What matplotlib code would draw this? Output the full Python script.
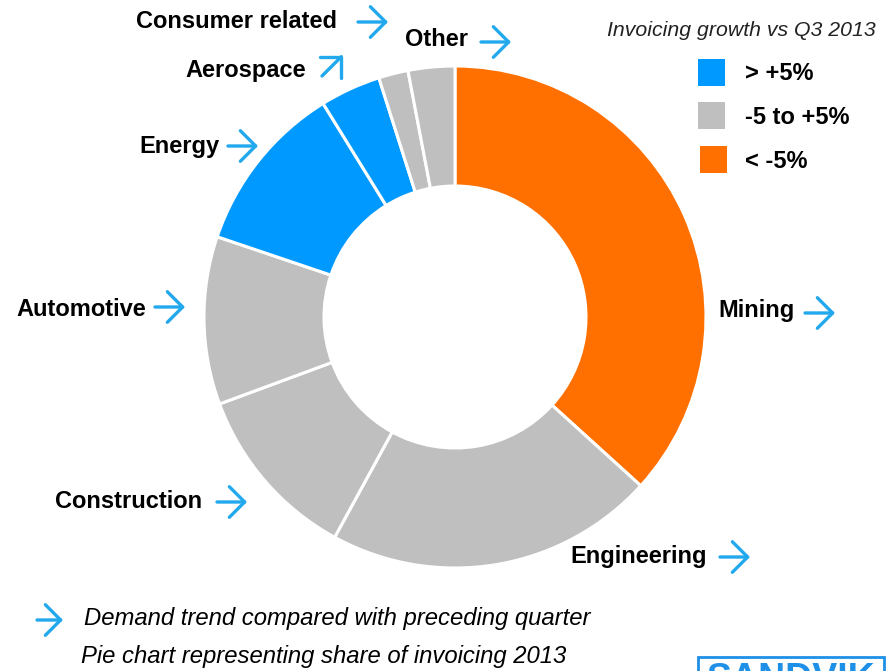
import matplotlib
matplotlib.use("Agg")
import matplotlib.pyplot as plt
from matplotlib.patches import Rectangle

# ---- data ----
segments = ["Mining", "Engineering", "Construction", "Automotive", "Energy",
            "Aerospace", "Consumer related", "Other"]
shares = [36.7, 21.2, 11.4, 10.8, 11.0, 3.9, 1.9, 3.0]
growth = ["low", "mid", "mid", "mid", "high", "high", "mid", "mid"]
trend_dir = ["right", "right", "right", "right", "right", "upright", "right", "right"]
legend_keys = ["high", "mid", "low"]
legend_labels = ["> +5%", "-5 to +5%", "< -5%"]
legend_title = "Invoicing growth vs Q3 2013"
note1 = "Demand trend compared with preceding quarter"
note2 = "Pie chart representing share of invoicing 2013"

colors = {"high": "#0099FF", "mid": "#BFBFBF", "low": "#FF7000"}
ARROW = "#22A8EC"
W, H = 892, 671

plt.rcParams['font.family'] = ['Liberation Sans', 'DejaVu Sans']
fig = plt.figure(figsize=(W / 100, H / 100), dpi=100)
ax = fig.add_axes([0, 0, 1, 1])

cx, cy, R, ring = 455, H - 317, 251, 120
ax.pie(shares, colors=[colors[g] for g in growth], startangle=90, counterclock=False,
       radius=R, center=(cx, cy),
       wedgeprops=dict(width=ring, edgecolor="white", linewidth=2.2))
ax.set_xlim(0, W)
ax.set_ylim(0, H)
ax.set_aspect("equal")
ax.axis("off")


def yy(y):
    return H - y


def arrow(x0, y0, x1, y1):
    ax.annotate("", xy=(x1, yy(y1)), xytext=(x0, yy(y0)),
                arrowprops=dict(arrowstyle="->,head_length=0.55,head_width=0.55",
                                mutation_scale=20, lw=2.4, color=ARROW,
                                shrinkA=0, shrinkB=0))


layout = {
    "Mining": (718, 311, "left"),
    "Engineering": (570, 557, "left"),
    "Construction": (55, 502, "left"),
    "Automotive": (16, 310, "left"),
    "Energy": (139, 147, "left"),
    "Aerospace": (185, 70, "left"),
    "Consumer related": (136, 22, "left"),
    "Other": (405, 40, "left"),
}
arrow_pos = {
    "Mining": (805, 313),
    "Engineering": (720, 557),
    "Construction": (217, 502),
    "Automotive": (155, 307),
    "Energy": (228, 146),
    "Aerospace": (322, 76),
    "Consumer related": (358, 22),
    "Other": (481, 42),
}
for name, d in zip(segments, trend_dir):
    x, y, ha = layout[name]
    ax.text(x, yy(y), name, ha=ha, va="center", fontsize=17, fontweight="bold", color="black")
    axx, ayy = arrow_pos[name]
    if d == "right":
        arrow(axx, ayy, axx + 30, ayy)
    else:
        arrow(axx, ayy, axx + 21, ayy - 21)

# legend
ax.text(876, yy(31), legend_title, ha="right", va="center", fontsize=15.3, style="italic", color="#222222")
sq_y = [59, 102, 146]
sq_x = [698, 698, 700]
for key, lab, sy, sx in zip(legend_keys, legend_labels, sq_y, sq_x):
    ax.add_patch(Rectangle((sx, yy(sy + 27)), 27, 27, color=colors[key], lw=0))
    ax.text(745, yy(sy + 15), lab, ha="left", va="center", fontsize=17, fontweight="bold")

# bottom notes
arrow(37, 620, 63, 620)
ax.text(84, yy(619), note1, ha="left", va="center", fontsize=17.2, style="italic")
ax.text(81, yy(656), note2, ha="left", va="center", fontsize=17.2, style="italic")

# logo (clipped at bottom edge, as in the reference)
ax.add_patch(Rectangle((698, yy(690)), 186, 33, fill=False, edgecolor="#1E90E8", lw=2, clip_on=False))
ax.text(791, yy(690), "SANDVIK", ha="center", va="baseline", fontsize=27, fontweight="bold", color="#1E90E8")

fig.savefig("out.png", dpi=100)
